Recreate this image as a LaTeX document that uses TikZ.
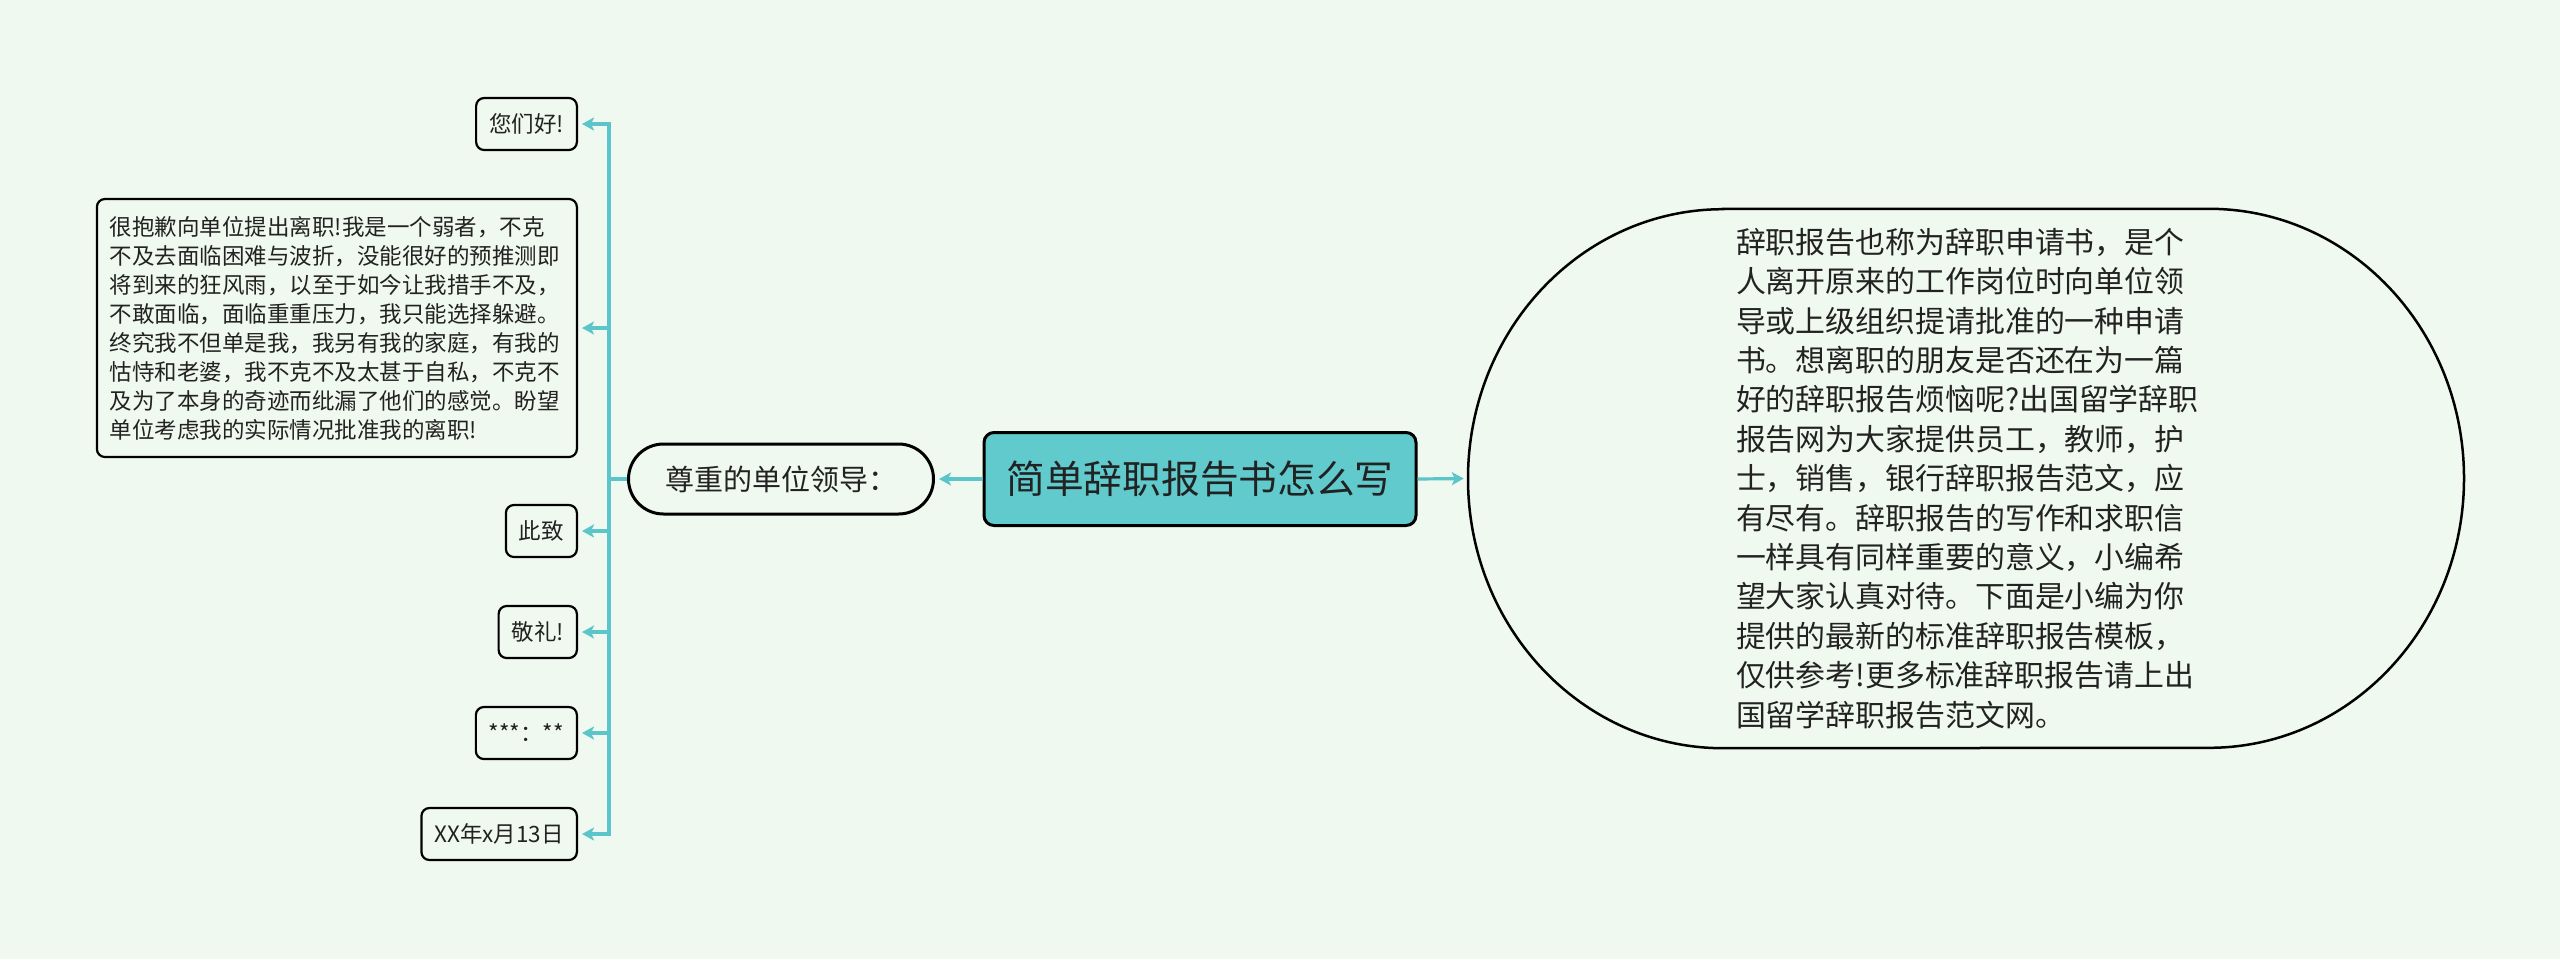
\documentclass[tikz,border=0pt]{standalone}
\usepackage{fontspec}
\setmainfont{Noto Sans CJK SC}
\usetikzlibrary{arrows.meta}
\definecolor{bgc}{HTML}{F0F9EF}
\definecolor{teal1}{HTML}{5CC5CA}
\definecolor{cfill}{HTML}{60CACC}
\definecolor{txt}{HTML}{222222}
\begin{document}
\begin{tikzpicture}[x=1pt,y=-1pt,
 leaf/.style={draw=black, line width=2.2pt, rounded corners=8pt, fill=bgc, minimum height=52pt, inner xsep=13pt, inner ysep=0pt, font=\fontsize{22.5}{29}\selectfont, text=txt, anchor=east},
 central/.style={draw=black, line width=3pt, rounded corners=10pt, fill=cfill, minimum width=432pt, minimum height=93pt, font=\fontsize{38.7}{46}\selectfont, text=txt},
 lead/.style={draw=black, line width=3pt, rounded corners=35pt, fill=bgc, minimum width=305pt, minimum height=70pt, font=\fontsize{29}{34}\selectfont, text=txt},
 bigtext/.style={inner sep=0pt, text width=460pt, align=left, minimum width=996pt, minimum height=539pt, font=\fontsize{29.9}{39.4}\selectfont, text=txt},
 link/.style={draw=teal1, line width=3.2pt},
 conn/.style={link, -{Stealth[length=12pt,width=13pt,inset=3pt]}, shorten >=4pt},
]
\fill[bgc] (0,0) rectangle (2560,959);
\useasboundingbox (0,0) rectangle (2560,959);

\node[central] (c) at (1200,479) {简单辞职报告书怎么写};
\node[lead] (l) at (781,479) {尊重的单位领导：};
\node[bigtext] (e) at (1966,478.5) {辞职报告也称为辞职申请书，是个\\人离开原来的工作岗位时向单位领\\导或上级组织提请批准的一种申请\\书。想离职的朋友是否还在为一篇\\好的辞职报告烦恼呢?出国留学辞职\\报告网为大家提供员工，教师，护\\士，销售，银行辞职报告范文，应\\有尽有。辞职报告的写作和求职信\\一样具有同样重要的意义，小编希\\望大家认真对待。下面是小编为你\\提供的最新的标准辞职报告模板，\\仅供参考!更多标准辞职报告请上出\\国留学辞职报告范文网。};
\draw[line width=2.5pt] ([xshift=-243pt]e.north) -- ([xshift=243pt]e.north)
  arc[start angle=90, end angle=-90, x radius=255pt, y radius=269.5pt]
  -- ([xshift=-243pt]e.south)
  arc[start angle=270, end angle=90, x radius=255pt, y radius=269.5pt] -- cycle;

\node[leaf] (n1) at (578,124) {您们好!};
\node[leaf, text width=454pt, align=left, minimum height=258pt] (n2) at (578,328) {很抱歉向单位提出离职!我是一个弱者，不克\\不及去面临困难与波折，没能很好的预推测即\\将到来的狂风雨，以至于如今让我措手不及，\\不敢面临，面临重重压力，我只能选择躲避。\\终究我不但单是我，我另有我的家庭，有我的\\怙恃和老婆，我不克不及太甚于自私，不克不\\及为了本身的奇迹而纰漏了他们的感觉。盼望\\单位考虑我的实际情况批准我的离职!};
\node[leaf] (n3) at (578,531) {此致};
\node[leaf] (n4) at (578,632) {敬礼!};
\node[leaf] (n5) at (578,733) {***：**};
\node[leaf] (n6) at (578,834) {XX年x月13日};

\coordinate (bus) at (609,479);
\draw[conn] (c.west) -- (l.east);
\draw[conn] (c.east) -- (e.west);
\draw[link] (l.west) -- (bus);
\foreach \n in {n1,n2,n3,n4,n5,n6}
  \draw[conn] (bus) |- (\n.east);
\end{tikzpicture}
\end{document}
